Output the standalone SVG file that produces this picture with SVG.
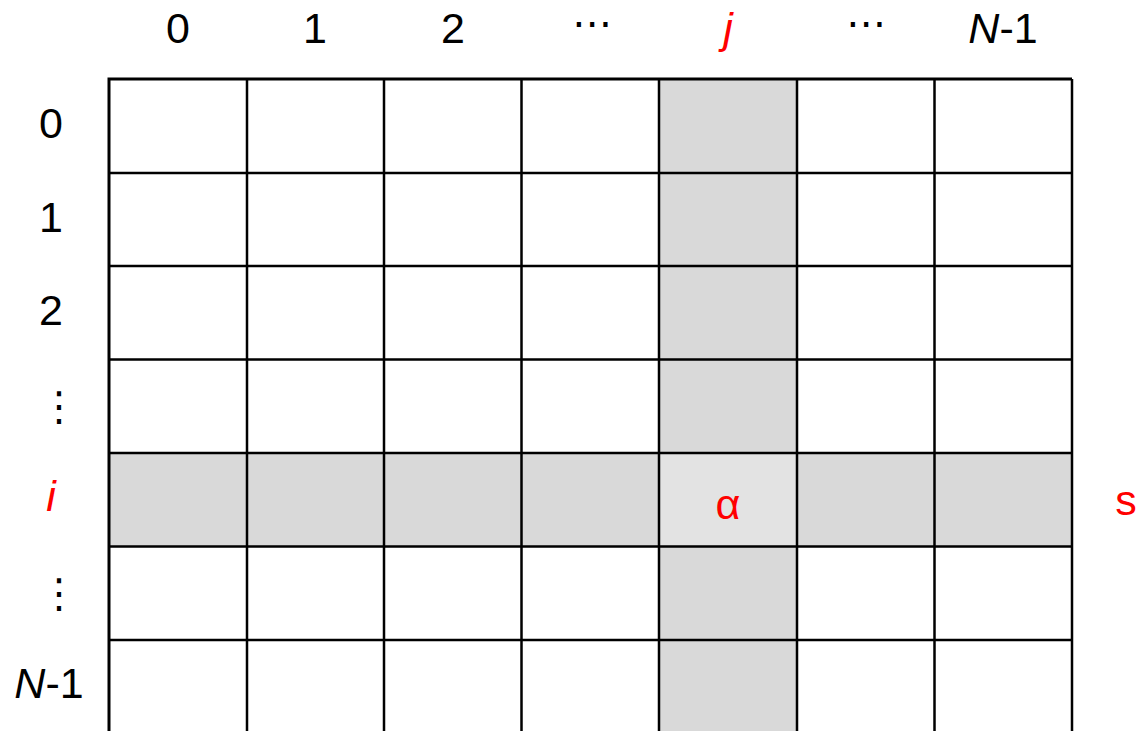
<svg xmlns="http://www.w3.org/2000/svg" width="1141" height="731" viewBox="0 0 1141 731">
<style>
.lbl{font-family:"Liberation Sans",Arial,sans-serif;font-size:43px;fill:#000;text-anchor:middle}
.red{fill:#ff0000}
.it{font-style:italic}
.dots{font-family:"DejaVu Sans",sans-serif;font-size:40px;fill:#000;text-anchor:middle}
.ln{stroke:#000;stroke-width:2.5;fill:none}
.bd{stroke:#000;stroke-width:3;fill:none}
</style>
<rect width="1141" height="731" fill="#fff"/>
<g id="shading">
<rect x="659" y="79" width="138" height="660" fill="#d9d9d9"/>
<rect x="109" y="453" width="963" height="93.5" fill="#d9d9d9"/>
<rect x="659" y="453" width="138" height="93.5" fill="#e3e3e3"/>
</g>
<g id="grid">
<path class="ln" d="M247,79V740 M384,79V740 M521.5,79V740 M659,79V740 M797,79V740 M934.5,79V740 M1072,79V740"/>
<path class="ln" d="M109,173H1072 M109,266H1072 M109,359.5H1072 M109,453H1072 M109,546.5H1072 M109,640H1072"/>
<path class="bd" d="M109,740V79H1072"/>
</g>
<g id="col-labels">
<text class="lbl" x="178" y="43">0</text>
<text class="lbl" x="315" y="43">1</text>
<text class="lbl" x="453" y="43">2</text>
<text class="dots" x="592" y="37">⋯</text>
<text class="lbl red it" x="728" y="43">j</text>
<text class="dots" x="866" y="37">⋯</text>
<text class="lbl" x="1003" y="43"><tspan class="it">N</tspan>-1</text>
</g>
<g id="row-labels">
<text class="lbl" x="51" y="138">0</text>
<text class="lbl" x="51" y="232">1</text>
<text class="lbl" x="51" y="325">2</text>
<text class="dots" x="59" y="420">⋮</text>
<text class="lbl red it" x="51" y="511">i</text>
<text class="dots" x="59" y="607">⋮</text>
<text class="lbl" x="49" y="698"><tspan class="it">N</tspan>-1</text>
</g>
<g id="cell-alpha">
<text class="lbl red" x="728" y="519">α</text>
</g>
<g id="row-sum">
<text class="lbl red" x="1126" y="515">s</text>
</g>
</svg>
